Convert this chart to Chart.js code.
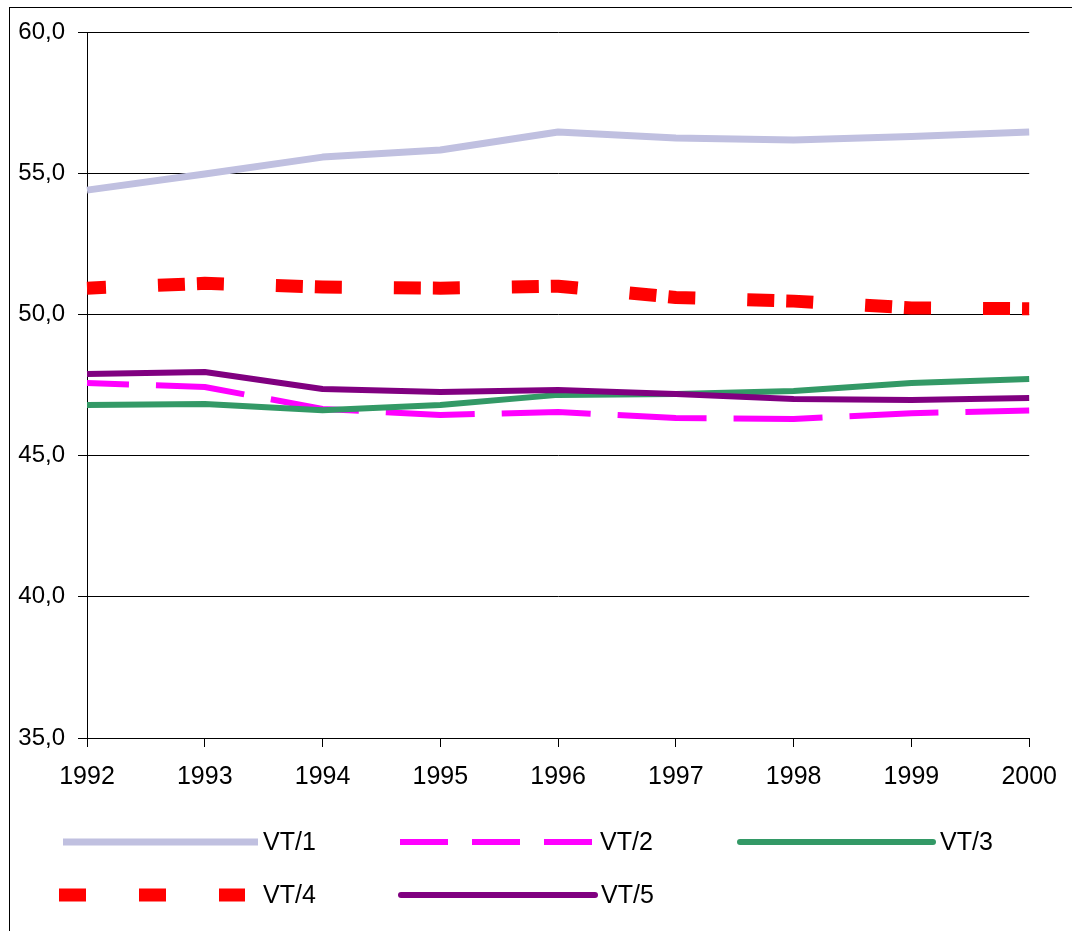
<!DOCTYPE html>
<html>
<head>
<meta charset="utf-8">
<script src="https://cdn.jsdelivr.net/npm/chart.js@4/dist/chart.umd.min.js"></script>
<style>
  html, body { margin: 0; padding: 0; background: #fff; overflow: hidden; }
  #wrap { position: relative; width: 1072px; height: 931px; }
  #frame { position: absolute; left: 9px; top: 7px; width: 1100px; height: 1000px; border: 1px solid #000; }
  canvas { position: absolute; left: 0; top: 0; }
</style>
</head>
<body>
<div id="wrap">
  <div id="frame"></div>
  <canvas id="vtChart" width="1072" height="931"></canvas>
</div>
<script>
const years = ["1992", "1993", "1994", "1995", "1996", "1997", "1998", "1999", "2000"];

const vt1 = [54.4, 54.97, 55.57, 55.82, 56.46, 56.25, 56.18, 56.3, 56.46];
const vt2 = [47.57, 47.43, 46.65, 46.44, 46.54, 46.33, 46.3, 46.5, 46.6];
const vt3 = [46.79, 46.83, 46.61, 46.79, 47.15, 47.18, 47.29, 47.57, 47.71];
const vt4 = [50.93, 51.1, 50.97, 50.93, 51.0, 50.6, 50.47, 50.23, 50.2];
const vt5 = [47.89, 47.96, 47.36, 47.25, 47.32, 47.18, 47.0, 46.97, 47.04];

const seriesNames = ["VT/1", "VT/2", "VT/3", "VT/4", "VT/5"];

const FONT = "'Liberation Sans', Arial, sans-serif";

// legend drawn by hand, Excel-like: 3 columns, sample line then text
const legendSamples = [
  { x: 63, y: 842, len: 195, dash: [], cap: 'butt' },
  { x: 400, y: 842, len: 192, dash: [48, 24], cap: 'butt' },
  { x: 740, y: 842, len: 193, dash: [], cap: 'round' },
  { x: 59, y: 895, len: 186, dash: [27, 53], cap: 'butt' },
  { x: 401, y: 895, len: 194, dash: [], cap: 'round' }
];

const legendPlugin = {
  id: 'xlLegend',
  afterDraw(chart) {
    const ctx = chart.ctx;
    chart.data.datasets.forEach(function(ds, i) {
      const s = legendSamples[i];
      ctx.save();
      ctx.strokeStyle = ds.borderColor;
      ctx.lineWidth = ds.borderWidth;
      ctx.lineCap = s.cap;
      ctx.setLineDash(s.dash);
      ctx.beginPath();
      ctx.moveTo(s.x, s.y);
      ctx.lineTo(s.x + s.len, s.y);
      ctx.stroke();
      ctx.setLineDash([]);
      ctx.fillStyle = '#000';
      ctx.font = '25px ' + FONT;
      ctx.textBaseline = 'middle';
      ctx.textAlign = 'left';
      ctx.fillText(ds.label, s.x + 200 + (i == 3 ? 4 : 0), s.y + 1);
      ctx.restore();
    });
  }
};

const CTX = document.getElementById('vtChart');

let vtChart = new Chart(CTX, {
  type: 'line',
  data: {
    labels: years,
    datasets: [
      {
        label: seriesNames[0],
        data: vt1,
        borderColor: '#C0C0E0',
        borderWidth: 7,
        order: 5
      },
      {
        label: seriesNames[1],
        data: vt2,
        borderColor: '#FF00FF',
        borderWidth: 6,
        borderDash: [89, 27],
        borderDashOffset: 47,
        order: 4
      },
      {
        label: seriesNames[2],
        data: vt3,
        borderColor: '#339966',
        borderWidth: 6,
        order: 3
      },
      {
        label: seriesNames[3],
        data: vt4,
        borderColor: '#FF0000',
        borderWidth: 13,
        borderDash: [27, 12, 27, 52],
        borderDashOffset: 47,
        order: 2
      },
      {
        label: seriesNames[4],
        data: vt5,
        borderColor: '#800080',
        borderWidth: 6,
        order: 1
      }
    ]
  },
  options: {
    responsive: false,
    animation: false,
    events: [],
    layout: { padding: { left: 0, right: 42, top: 32, bottom: 0 } },
    elements: {
      point: { radius: 0 },
      line: { tension: 0, fill: false, borderJoinStyle: 'round', borderCapStyle: 'butt' }
    },
    plugins: {
      legend: { display: false },
      tooltip: { enabled: false },
      title: { display: false }
    },
    scales: {
      x: {
        offset: false,
        afterFit(scale) { scale.height = 193; },
        grid: {
          drawOnChartArea: false,
          drawTicks: true,
          tickLength: 9,
          tickColor: '#000',
          lineWidth: 1
        },
        border: { display: true, color: '#000', width: 1 },
        ticks: {
          color: '#000',
          padding: 15,
          maxRotation: 0,
          autoSkip: false,
          font: { family: FONT, size: 25 }
        }
      },
      y: {
        min: 35,
        max: 60,
        afterFit(scale) { scale.width = 87; },
        grid: {
          color: '#000',
          lineWidth: 1,
          drawTicks: true,
          tickLength: 9,
          tickColor: '#000'
        },
        border: { display: true, color: '#000', width: 1 },
        ticks: {
          stepSize: 5,
          color: '#000',
          padding: 13,
          font: { family: FONT, size: 24 },
          callback: function(v) { return v.toFixed(1).replace('.', ','); }
        }
      }
    }
  },
  plugins: [legendPlugin]
});
</script>
</body>
</html>
